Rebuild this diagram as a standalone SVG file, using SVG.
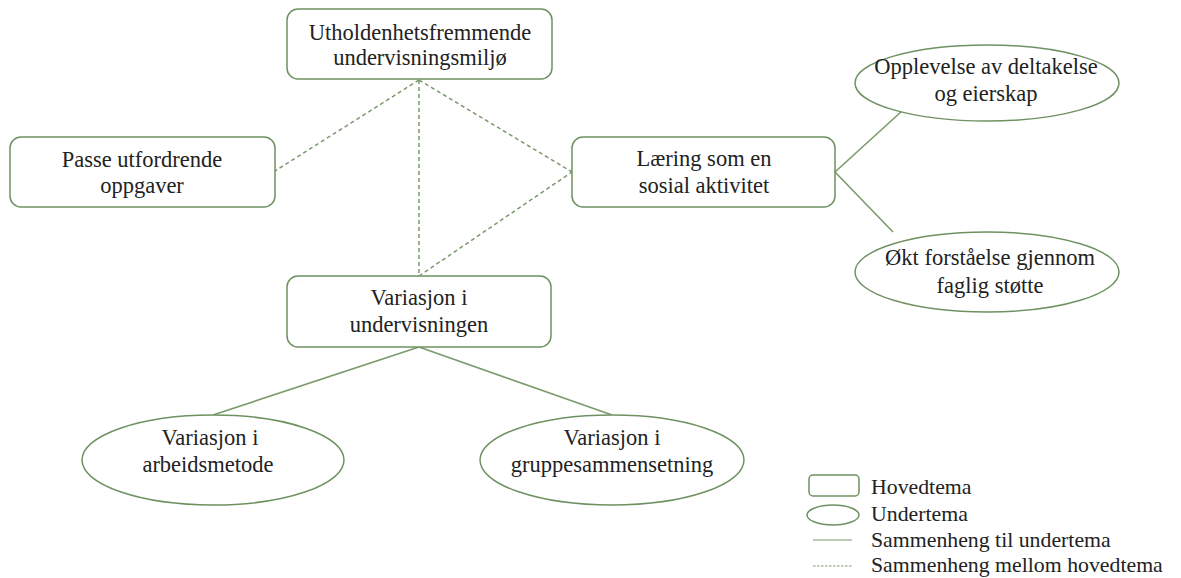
<svg xmlns="http://www.w3.org/2000/svg" width="1181" height="578" viewBox="0 0 1181 578">
<style>
.box{fill:#fff;stroke:#6f9162;stroke-width:1.5}
.ell{fill:#fff;stroke:#6f9162;stroke-width:1.5}
.sol{stroke:#7a9a6c;stroke-width:1.6;fill:none}
.dsh{stroke:#7a9a6c;stroke-width:1.5;fill:none;stroke-dasharray:4 3}
text{font-family:"Liberation Serif","Times New Roman",serif;font-size:22.5px;fill:#222}
.c{text-anchor:middle}
.lg{font-size:21.8px}
</style>
<rect width="1181" height="578" fill="#fff"/>
<g id="connectors">
<line class="dsh" x1="419" y1="80" x2="275" y2="171"/>
<line class="dsh" x1="419" y1="80" x2="572" y2="172"/>
<line class="dsh" x1="419" y1="80" x2="419" y2="276"/>
<line class="dsh" x1="419" y1="276" x2="572" y2="172"/>
<line class="sol" x1="419" y1="347" x2="213" y2="415"/>
<line class="sol" x1="419" y1="347" x2="612" y2="415"/>
<line class="sol" x1="835" y1="172" x2="902" y2="111"/>
<line class="sol" x1="835" y1="172" x2="893" y2="232"/>
</g>
<g id="n-utholden">
<rect class="box" x="287" y="9" width="265" height="70" rx="11"/>
<text class="c" x="420" y="40">Utholdenhetsfremmende</text>
<text class="c" x="420" y="65">undervisningsmiljø</text>
</g>
<g id="n-passe">
<rect class="box" x="10" y="137" width="265" height="70" rx="11"/>
<text class="c" x="142" y="167">Passe utfordrende</text>
<text class="c" x="142" y="193">oppgaver</text>
</g>
<g id="n-laering">
<rect class="box" x="572" y="137" width="263" height="70" rx="11"/>
<text class="c" x="704" y="166">Læring som en</text>
<text class="c" x="704" y="193">sosial aktivitet</text>
</g>
<g id="n-variasjon">
<rect class="box" x="287" y="276" width="264" height="71" rx="11"/>
<text class="c" x="419" y="305">Variasjon i</text>
<text class="c" x="419" y="332">undervisningen</text>
</g>
<g id="n-opplevelse">
<ellipse class="ell" cx="987" cy="83" rx="132" ry="38"/>
<text class="c" x="986" y="74">Opplevelse av deltakelse</text>
<text class="c" x="986" y="101">og eierskap</text>
</g>
<g id="n-okt">
<ellipse class="ell" cx="987" cy="272" rx="132" ry="40"/>
<text class="c" x="990" y="265">Økt forståelse gjennom</text>
<text class="c" x="990" y="293">faglig støtte</text>
</g>
<g id="n-arbeid">
<ellipse class="ell" cx="213" cy="460" rx="131" ry="45"/>
<text class="c" x="210" y="445">Variasjon i</text>
<text class="c" x="208" y="472">arbeidsmetode</text>
</g>
<g id="n-gruppe">
<ellipse class="ell" cx="612" cy="460" rx="132" ry="45"/>
<text class="c" x="612" y="445">Variasjon i</text>
<text class="c" x="612" y="472">gruppesammensetning</text>
</g>
<g id="legend">
<rect class="box" x="809" y="475" width="50" height="21" rx="4"/>
<ellipse class="ell" cx="833" cy="515" rx="26" ry="10"/>
<line class="sol" x1="813" y1="540" x2="852" y2="540" style="stroke-width:1.2"/>
<line class="dsh" x1="813" y1="566" x2="852" y2="566" style="stroke-width:1;stroke-dasharray:2.5 1.5"/>
<text class="lg" x="871" y="494">Hovedtema</text>
<text class="lg" x="871" y="521">Undertema</text>
<text class="lg" x="871" y="547">Sammenheng til undertema</text>
<text class="lg" x="871" y="572">Sammenheng mellom hovedtema</text>
</g>
</svg>
